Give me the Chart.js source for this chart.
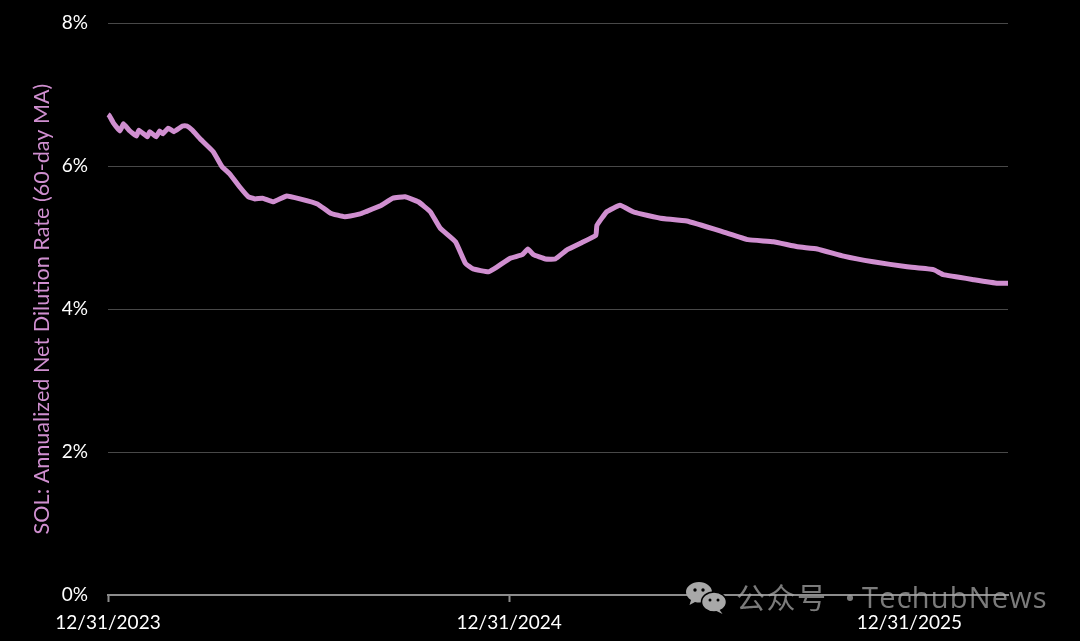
<!DOCTYPE html>
<html>
<head>
<meta charset="utf-8">
<style>
  html, body { margin: 0; background: #000; }
  #wrap { position: relative; width: 1080px; height: 641px; overflow: hidden; }
  #mark { position: absolute; left: 686px; top: 581px; height: 34px; display: flex; align-items: center; color: rgba(170,170,170,0.72); }
  #mark span { font: 29px "Noto Sans CJK SC", sans-serif; margin-left: 9px; letter-spacing: 1.5px; white-space: nowrap; position: relative; top: -2px; }
  #mark span + span { font-family: "Open Sans", sans-serif; margin-left: -4px; letter-spacing: 1.2px; }
</style>
</head>
<body>
<div id="wrap">
  <canvas id="chart" width="1080" height="641"></canvas>
  <div id="mark">
    <svg width="41" height="34" viewBox="0 0 41 34">
      <path d="M13 1C6 1 0 5.500 0 11c0 3.500 2 6 5 8l-1.500 5 5.500-3c1.500 .4 3 .6 4.500 .6 C20 21.600 26 16.500 26 11 26 5.500 20 1 13 1z" fill="#a8a8a8"/>
      <ellipse cx="28" cy="21" rx="12.500" ry="10" fill="#a8a8a8" stroke="#000" stroke-width="1.500"/>
      <path d="M33 28l3.500 5-6-3z" fill="#a8a8a8"/>
      <circle cx="9" cy="9" r="1.700" fill="#000"/><circle cx="17" cy="9" r="1.700" fill="#000"/>
      <circle cx="24" cy="19" r="1.500" fill="#000"/><circle cx="32" cy="19" r="1.500" fill="#000"/>
    </svg>
    <span>公众号 · </span><span>TechubNews</span>
  </div>
</div>
<script src="https://cdn.jsdelivr.net/npm/chart.js@4"></script>
<script>
const days = [0, 1, 5, 11, 14, 20, 26, 28, 36, 38, 44, 47, 50, 55, 60, 68, 72, 77, 84, 96,
  104, 111, 120, 128, 134, 141, 151, 163, 175, 191, 203, 216, 230, 235, 248, 260, 271, 283, 294, 303,
  317, 326, 333, 347, 355, 367, 378, 383, 388, 399, 408, 419, 431, 445, 446, 455, 467, 479, 486, 504,
  528, 561, 584, 607, 629, 647, 671, 698, 729, 753, 762, 790, 812, 821];
const dilution = [6.72, 6.71, 6.60, 6.49, 6.59, 6.49, 6.42, 6.50, 6.41, 6.48, 6.41, 6.49, 6.45, 6.53, 6.48, 6.56, 6.56, 6.50, 6.38, 6.20,
  5.99, 5.89, 5.71, 5.57, 5.54, 5.55, 5.50, 5.58, 5.54, 5.47, 5.34, 5.29, 5.33, 5.36, 5.44, 5.55, 5.57, 5.50, 5.36, 5.13,
  4.94, 4.64, 4.56, 4.52, 4.59, 4.71, 4.76, 4.84, 4.76, 4.70, 4.70, 4.83, 4.92, 5.03, 5.17, 5.36, 5.45, 5.36, 5.33, 5.27,
  5.23, 5.08, 4.97, 4.94, 4.87, 4.84, 4.74, 4.66, 4.59, 4.55, 4.48, 4.41, 4.36, 4.36];
const xTickDays = [0, 366, 731];
const xTickLabels = ["12/31/2023", "12/31/2024", "12/31/2025"];
const yTicks = [0, 2, 4, 6, 8];
const yTitle = "SOL: Annualized Net Dilution Rate (60-day MA)";

const lineColor = "#d08fd0";
const labelFont = { family: "Lato, 'Open Sans', sans-serif", size: 19 };
const titleFont = { family: "Lato, 'Open Sans', sans-serif", size: 21.6 };

new Chart(document.querySelector("#chart"), {
  type: "line",
  data: {
    datasets: [{
      data: days.map((day, i) => ({ x: day, y: dilution[i] })),
      borderColor: lineColor,
      borderWidth: 5,
      pointRadius: 0,
      tension: 0.1,
      clip: false
    }]
  },
  options: {
    responsive: false,
    animation: false,
    layout: { padding: { top: 23, right: 72, left: 0, bottom: 0 } },
    plugins: { legend: { display: false }, tooltip: { enabled: false } },
    scales: {
      x: {
        type: "linear",
        min: 0,
        max: 821,
        afterBuildTicks: scale => { scale.ticks = xTickDays.map(value => ({ value })); },
        afterFit: scale => { scale.height = 46; },
        ticks: {
          color: "#ffffff",
          font: labelFont,
          padding: 9,
          maxRotation: 0,
          autoSkip: false,
          callback: value => xTickLabels[xTickDays.indexOf(value)]
        },
        grid: { drawOnChartArea: false, tickLength: 7, tickColor: "#8c8c8c", tickWidth: 2 },
        border: { color: "#8c8c8c", width: 2 }
      },
      y: {
        min: 0,
        max: 8,
        afterBuildTicks: scale => { scale.ticks = yTicks.map(value => ({ value })); },
        afterFit: scale => {
          scale.width = 108;
          // tick padding would otherwise push the plot area down
          scale.paddingTop = 0;
          scale.paddingBottom = 0;
        },
        ticks: {
          color: "#ffffff",
          font: labelFont,
          padding: 20,
          callback: value => value + "%"
        },
        grid: { color: "#484848", lineWidth: 1, drawTicks: false },
        border: { display: false },
        title: {
          display: true,
          text: yTitle,
          color: lineColor,
          font: titleFont,
          padding: { top: 29, bottom: 0 }
        }
      }
    }
  }
});
</script>
</body>
</html>
